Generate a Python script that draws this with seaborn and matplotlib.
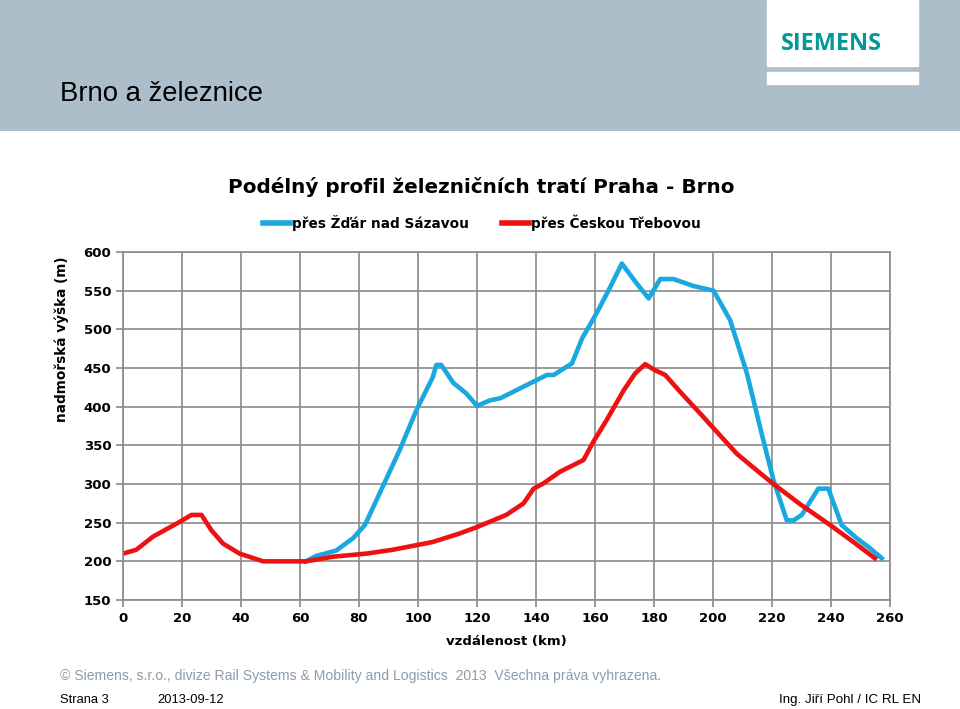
import matplotlib
matplotlib.use("Agg")
import matplotlib.pyplot as plt
import seaborn as sns
import pandas as pd
from matplotlib.patches import Rectangle
from matplotlib.lines import Line2D

# ---- data ----
blue_km = [62, 65.5, 72.3, 78, 82, 87, 93.8, 99.4, 105, 106.2, 107.9, 111.9, 116.4, 120,
           124.3, 128, 135.8, 143.7, 146, 152.2, 155.6, 160.7, 165.2, 169.1, 174.2, 178.2,
           182.1, 186.6, 193.4, 200.2, 205.8, 211.5, 216.5, 220.5, 225, 227.3, 230.1,
           235.7, 239.1, 243.6, 248.7, 253.2, 257.2]
blue_alt = [200, 207, 214, 230, 247, 288, 344, 395, 438, 454, 454, 431, 417, 401,
            408, 411, 426, 441, 441, 456, 488, 522, 555, 585, 559, 540,
            565, 565, 556, 550, 512, 443, 365, 305, 253, 253, 260,
            294, 294, 247, 230, 217, 204]

red_km = [0, 4.5, 10.2, 19.2, 23.2, 26.6, 30, 33.9, 39.5, 47.5, 59.9, 62.1, 71.2, 82.5,
          91.5, 105, 114.1, 119.8, 129.9, 135.8, 139.2, 142.6, 148.2, 156.1, 159.5, 164,
          169.7, 173.6, 177, 180.4, 183.8, 188.9, 195.7, 200.2, 208.1, 216, 220.5, 229.5,
          239.7, 247.6, 254.9]
red_alt = [210, 215, 232, 251, 260, 260, 240, 223, 210, 200, 200, 200, 206, 210,
           215, 225, 236, 244, 260, 275, 294, 301, 316, 331, 355, 383,
           421, 443, 455, 447, 441, 419, 391, 372, 339, 314, 300, 274,
           247, 225, 204]

series_names = ["přes Žďár nad Sázavou", "přes Českou Třebovou"]
x_ticks = list(range(0, 261, 20))
y_ticks = list(range(150, 601, 50))

df = pd.concat([
    pd.DataFrame({"km": blue_km, "alt": blue_alt, "trasa": series_names[0]}),
    pd.DataFrame({"km": red_km, "alt": red_alt, "trasa": series_names[1]}),
])

plt.rcParams["font.family"] = ["Liberation Sans", "DejaVu Sans"]
CHART_FONT = ["DejaVu Sans"]

fig = plt.figure(figsize=(9.6, 7.09), dpi=100)
W, H = 960, 709

def fx(px):
    return px / W

def fy(py):
    return 1 - py / H

# header band
band = fig.add_axes([0, fy(131), 1, 131 / H])
band.set_xlim(0, W)
band.set_ylim(131, 0)
band.axis("off")
band.add_patch(Rectangle((0, 0), W, 131, color="#adbecb", zorder=0))
band.add_patch(Rectangle((767, 0), 151, 66, color="white", zorder=1))
band.add_patch(Rectangle((767, 72), 151, 12, color="white", zorder=1))
band.text(831, 44, "SIEMENS", color="#009999", fontsize=16.8, fontweight="bold",
          ha="center", va="center", family=["Open Sans", "DejaVu Sans"])
band.text(60, 94, "Brno a železnice", color="black", fontsize=19.8, ha="left", va="center")

# main chart
ax = fig.add_axes([fx(123), fy(600), (890 - 123) / W, (600 - 252) / H])
palette = {series_names[0]: "#1aa8e0", series_names[1]: "#ee1111"}
sns.lineplot(data=df, x="km", y="alt", hue="trasa", palette=palette, sort=False,
             estimator=None, linewidth=3.3, ax=ax, legend=False)
ax.set_xlim(0, 260)
ax.set_ylim(150, 600)
ax.set_xticks(x_ticks)
ax.set_yticks(y_ticks)
ax.grid(True, color="#8a8a8a", linewidth=1.2)
ax.set_axisbelow(True)
for s in ax.spines.values():
    s.set_color("#8a8a8a")
    s.set_linewidth(1.2)
ax.tick_params(axis="both", colors="#8a8a8a", length=5, width=1.2, labelcolor="black",
               labelsize=9.5)
for lab in ax.get_xticklabels() + ax.get_yticklabels():
    lab.set_fontweight("bold")
    lab.set_family(CHART_FONT)
ax.set_xlabel("vzdálenost (km)", fontsize=9.5, fontweight="bold", family=CHART_FONT, labelpad=7)
ax.set_ylabel("nadmořská výška (m)", fontsize=9.8, fontweight="bold", family=CHART_FONT)
ax.yaxis.set_label_coords((69 - 123) / 767, (600 - 339) / 348)

fig.text(fx(481), fy(187), "Podélný profil železničních tratí Praha - Brno", fontsize=14.4,
         fontweight="bold", ha="center", va="center", family=CHART_FONT)

handles = [Line2D([], [], color=palette[n], linewidth=4) for n in series_names]
fig.legend(handles, series_names, loc="center", bbox_to_anchor=(fx(482), fy(223)), ncol=2,
           frameon=False, handlelength=2.0, handletextpad=0.15, columnspacing=2.4,
           prop={"weight": "bold", "size": 9.8, "family": CHART_FONT})

# footer
fig.text(fx(60), fy(676), "© Siemens, s.r.o., divize Rail Systems & Mobility and Logistics  2013  Všechna práva vyhrazena.",
         color="#8c9cab", fontsize=10.1, ha="left", va="center")
fig.text(fx(60), fy(700), "Strana 3", color="black", fontsize=9.3, ha="left", va="center")
fig.text(fx(157), fy(700), "2013-09-12", color="black", fontsize=9.3, ha="left", va="center")
fig.text(fx(921), fy(700), "Ing. Jiří Pohl / IC RL EN", color="black", fontsize=9.6, ha="right", va="center")

fig.savefig("out.png", dpi=100)
